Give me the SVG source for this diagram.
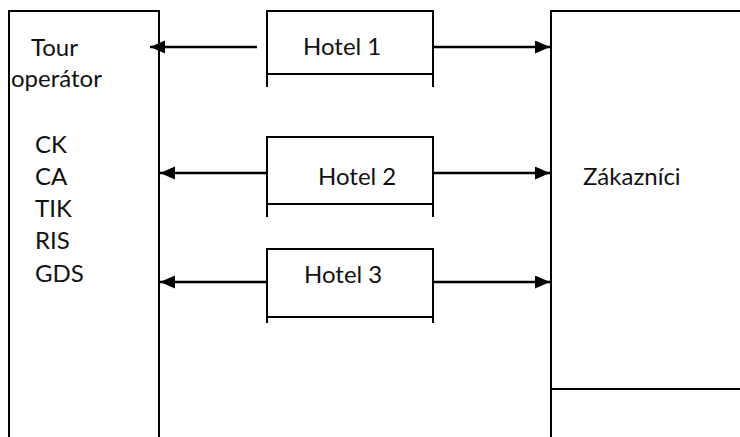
<svg xmlns="http://www.w3.org/2000/svg" width="740" height="437" viewBox="0 0 740 437">
<style>
.ln{fill:none;stroke:#000;stroke-width:2}
.cn{fill:none;stroke:#000;stroke-width:2.5}
.tx{font-family:Lato,"Open Sans","Liberation Sans",sans-serif;font-size:24px;fill:#111}
</style>
<defs>
<marker id="ah" markerUnits="userSpaceOnUse" markerWidth="16" markerHeight="14" refX="15" refY="6.5" orient="auto">
<path d="M0,0 L15,6.5 L0,13 Z" fill="#000"/>
</marker>
</defs>
<rect width="740" height="437" fill="#fff"/>
<g id="tour-operator">
<path class="ln" d="M9,437 V11 H159 V437"/>
<text class="tx" x="31" y="56">Tour</text>
<text class="tx" x="11" y="87">operátor</text>
<text class="tx" x="35" y="153">CK</text>
<text class="tx" x="35" y="185">CA</text>
<text class="tx" x="35" y="217">TIK</text>
<text class="tx" x="35" y="249">RIS</text>
<text class="tx" x="35" y="282">GDS</text>
</g>
<g id="hotel1">
<path class="ln" d="M267,87 V11 H433 V87 M267,74 H433"/>
<text class="tx" x="303" y="55">Hotel 1</text>
</g>
<g id="hotel2">
<path class="ln" d="M267,217 V137 H433 V217 M267,204 H433"/>
<text class="tx" x="318" y="185">Hotel 2</text>
</g>
<g id="hotel3">
<path class="ln" d="M267,323 V249 H433 V323 M267,317 H433"/>
<text class="tx" x="304" y="283">Hotel 3</text>
</g>
<g id="zakaznici">
<path class="ln" d="M551,437 V11 H740 M551,389 H740"/>
<text class="tx" x="583" y="185">Zákazníci</text>
</g>
<g id="connectors">
<line class="cn" x1="257" y1="47" x2="150" y2="47" marker-end="url(#ah)"/>
<line class="cn" x1="433" y1="47" x2="550" y2="47" marker-end="url(#ah)"/>
<line class="cn" x1="267" y1="173" x2="160" y2="173" marker-end="url(#ah)"/>
<line class="cn" x1="433" y1="173" x2="550" y2="173" marker-end="url(#ah)"/>
<line class="cn" x1="267" y1="282" x2="160" y2="282" marker-end="url(#ah)"/>
<line class="cn" x1="433" y1="282" x2="550" y2="282" marker-end="url(#ah)"/>
</g>
</svg>
